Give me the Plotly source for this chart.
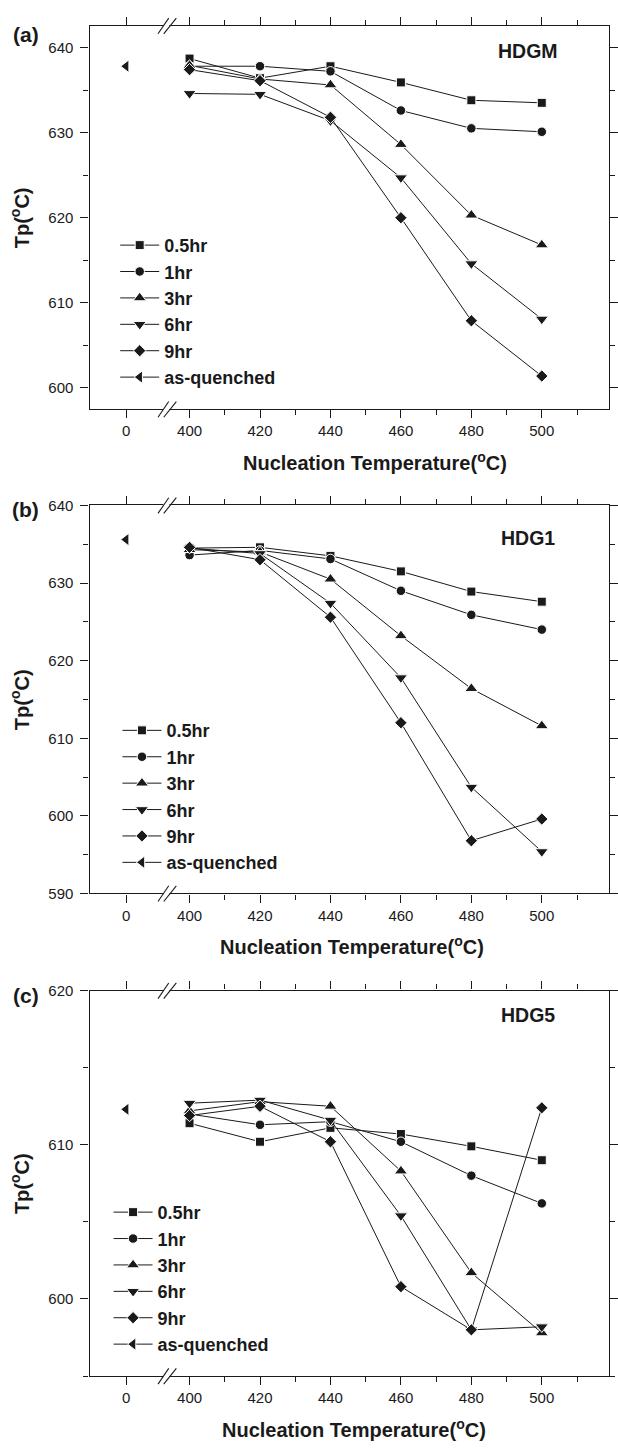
import plotly.graph_objects as go

# ---- data -------------------------------------------------------------
temps = [400, 420, 440, 460, 480, 500]
hold_times = ["0.5hr", "1hr", "3hr", "6hr", "9hr"]
quench_label = "as-quenched"
quench_temp = 0

panels = ["(a)", "(b)", "(c)"]
alloys = ["HDGM", "HDG1", "HDG5"]

hdgm = {
    "0.5hr": [638.7, 636.4, 637.8, 635.9, 633.8, 633.5],
    "1hr":   [637.8, 637.8, 637.2, 632.6, 630.5, 630.1],
    "3hr":   [637.9, 636.3, 635.6, 628.6, 620.3, 616.8],
    "6hr":   [634.6, 634.5, 631.4, 624.7, 614.6, 608.1],
    "9hr":   [637.4, 636.1, 631.8, 620.0, 607.9, 601.4],
}
hdgm_quenched = 637.8

hdg1 = {
    "0.5hr": [634.5, 634.6, 633.5, 631.5, 628.9, 627.6],
    "1hr":   [633.6, 634.2, 633.1, 629.0, 625.9, 624.0],
    "3hr":   [634.3, 634.0, 630.5, 623.2, 616.4, 611.6],
    "6hr":   [634.5, 633.8, 627.4, 617.8, 603.7, 595.4],
    "9hr":   [634.6, 633.0, 625.6, 612.0, 596.8, 599.6],
}
hdg1_quenched = 635.6

hdg5 = {
    "0.5hr": [611.4, 610.2, 611.1, 610.7, 609.9, 609.0],
    "1hr":   [612.0, 611.3, 611.5, 610.2, 608.0, 606.2],
    "3hr":   [612.2, 612.8, 612.5, 608.3, 601.7, 597.8],
    "6hr":   [612.7, 612.9, 611.6, 605.4, 598.0, 598.2],
    "9hr":   [611.9, 612.5, 610.2, 600.8, 598.0, 612.4],
}
hdg5_quenched = 612.3

x_ticks = [0, 400, 420, 440, 460, 480, 500]
y_ranges = [[597.5, 642.55], [590, 640], [595, 620]]
y_ticks = [[600, 610, 620, 630, 640], [590, 600, 610, 620, 630, 640], [600, 610, 620]]

series_sets = [hdgm, hdg1, hdg5]
quenched_vals = [hdgm_quenched, hdg1_quenched, hdg5_quenched]

# ---- styling ----------------------------------------------------------
symbols = {"0.5hr": "square", "1hr": "circle", "3hr": "triangle-up",
           "6hr": "triangle-down", "9hr": "diamond", quench_label: "triangle-left"}
sizes = {"0.5hr": 9, "1hr": 9.5, "3hr": 11.5, "6hr": 11.5, "9hr": 9.5, quench_label: 11}
FONT = "Liberation Sans, Arial, Helvetica, sans-serif"
INK = "#1a1a1a"

W, H = 618, 1449
# broken x axis: the quenched sample (0 °C) sits just left of the break
ZERO_POS = 382.0
BREAK_POS = 393.6


def axis_pos(t):
    return ZERO_POS if t == 0 else t


x_domain = [90.7 / W, 616.7 / W]
# panel frames in pixels (top, bottom)
frames = [(17.0, 405.0), (502.3, 895.0), (993.3, 1383.3)]
legend_tops = [220.5, 711.5, 1199]
legend_x = [116.7, 119, 110]
alloy_y = [43, 535, 1018]
label_y = [26, 506, 998]
xtitle_x = [380, 357, 359]


def py(p):
    return 1 - p / H


def px(p):
    return p / W


fig = go.Figure()
shapes = []
annotations = []

for i in range(3):
    n = "" if i == 0 else str(i + 1)
    xa, ya = "x" + n, "y" + n
    legend_name = "legend" + n
    data = series_sets[i]
    for ht in hold_times:
        fig.add_trace(go.Scatter(
            x=[axis_pos(t) for t in temps], y=data[ht], name=ht,
            mode="lines+markers", xaxis=xa, yaxis=ya, legend=legend_name,
            line=dict(color=INK, width=1),
            marker=dict(symbol=symbols[ht], size=sizes[ht], color=INK,
                        line=dict(color="white", width=1)),
        ))
    fig.add_trace(go.Scatter(
        x=[axis_pos(quench_temp)], y=[quenched_vals[i]], name=quench_label,
        mode="lines+markers", xaxis=xa, yaxis=ya, legend=legend_name,
        line=dict(color=INK, width=1),
        marker=dict(symbol=symbols[quench_label], size=sizes[quench_label], color=INK,
                    line=dict(color="white", width=1)),
    ))

    top, bot = frames[i]
    axis_common = dict(
        showline=True, linecolor=INK, linewidth=1.3, mirror="ticks",
        ticks="outside", ticklen=8, tickwidth=1.1, tickcolor=INK,
        showgrid=False, zeroline=False,
        tickfont=dict(family=FONT, size=15, color=INK),
    )
    fig.update_layout(**{
        "xaxis" + n: dict(
            domain=x_domain, range=[371.6, 519.0], anchor=ya,
            tickmode="array", tickvals=[axis_pos(t) for t in x_ticks],
            ticktext=[str(t) for t in x_ticks],
            minor=dict(tickmode="array", tickvals=[410, 430, 450, 470, 490, 510],
                       ticks="outside", ticklen=5, tickwidth=1.1, tickcolor=INK),
            **axis_common),
        "yaxis" + n: dict(
            domain=[py(bot), py(top)], range=y_ranges[i], anchor=xa,
            tickmode="array", tickvals=y_ticks[i],
            minor=dict(dtick=5, ticks="outside", ticklen=5, tickwidth=1.1, tickcolor=INK),
            ticklabelstandoff=4,
            **axis_common),
        legend_name: dict(
            x=px(legend_x[i]), y=py(legend_tops[i]), xanchor="left", yanchor="top",
            bgcolor="rgba(0,0,0,0)", borderwidth=0, itemwidth=39,
            font=dict(family=FONT, size=18, color=INK, weight="bold"),
            tracegroupgap=0,
        ),
    })

    # axis break marks on the top and bottom frame lines
    for anchor in (0, 1):
        common = dict(xref=xa, yref=ya + " domain", xsizemode="pixel",
                      ysizemode="pixel", xanchor=BREAK_POS, yanchor=anchor,
                      layer="above")
        shapes.append(dict(type="line", x0=-3.8, x1=2.4, y0=0, y1=0,
                           line=dict(color="white", width=3), **common))
        shapes.append(dict(type="line", x0=-9.0, x1=1.7, y0=-8, y1=7.7,
                           line=dict(color=INK, width=1.1), **common))
        shapes.append(dict(type="line", x0=-3.3, x1=9.3, y0=-8, y1=7.7,
                           line=dict(color=INK, width=1.1), **common))

    # panel letter, alloy name, axis titles
    annotations.append(dict(text=panels[i], x=px(26), y=py(label_y[i]),
                            xref="paper", yref="paper", showarrow=False,
                            xanchor="center", yanchor="middle",
                            font=dict(family=FONT, size=21, color=INK, weight="bold")))
    annotations.append(dict(text=alloys[i], x=px(535), y=py(alloy_y[i]),
                            xref="paper", yref="paper", showarrow=False,
                            xanchor="center", yanchor="middle",
                            font=dict(family=FONT, size=19.5, color=INK, weight="bold")))
    annotations.append(dict(text="Tp(<sup>o</sup>C)", x=px(20), y=py((top + bot) / 2),
                            xref="paper", yref="paper", showarrow=False, textangle=-90,
                            xanchor="center", yanchor="middle",
                            font=dict(family=FONT, size=20, color=INK, weight="bold")))
    annotations.append(dict(text="Nucleation Temperature(<sup>o</sup>C)",
                            x=px(xtitle_x[i]), y=py(bot + 53),
                            xref="paper", yref="paper", showarrow=False,
                            xanchor="center", yanchor="middle",
                            font=dict(family=FONT, size=20, color=INK, weight="bold")))

fig.update_layout(
    width=W, height=H,
    margin=dict(l=0, r=0, t=0, b=0),
    paper_bgcolor="white", plot_bgcolor="white",
    shapes=shapes, annotations=annotations,
    showlegend=True,
)

fig.write_html("out.html")
